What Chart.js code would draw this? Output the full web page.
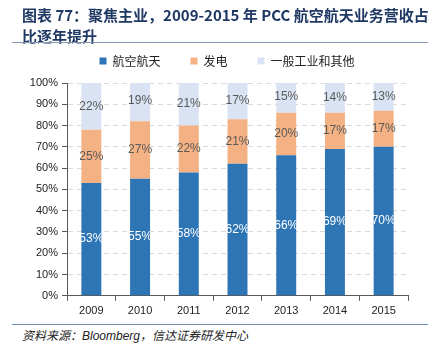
<!DOCTYPE html>
<html><head><meta charset="utf-8">
<script src="https://cdn.jsdelivr.net/npm/chart.js@4.4.0/dist/chart.umd.min.js"></script>
<style>
html,body{margin:0;padding:0;background:#fff;width:428px;height:356px;overflow:hidden;position:relative;}
#title{position:absolute;z-index:2;left:22px;top:4px;width:406px;font-family:"Noto Sans CJK SC","Liberation Sans",sans-serif;font-weight:bold;font-size:15px;line-height:21px;color:#1F3864;white-space:nowrap;}
#rule1{position:absolute;z-index:2;left:12px;width:416px;top:42px;height:0;border-top:1px solid #8497B0;}
#rule2{position:absolute;left:12px;width:416px;top:324px;height:0;border-top:1.5px solid #6F8DB5;}
#foot{position:absolute;left:22px;top:326px;font-family:"Liberation Sans","Noto Sans CJK SC",sans-serif;font-style:italic;font-size:12px;color:#222;white-space:nowrap;}
#wrap{position:absolute;z-index:1;left:0;top:25px;width:428px;height:297px;}
</style></head>
<body>
<div id="title">图表 77：聚焦主业，2009-2015 年 PCC 航空航天业务营收占<br>比逐年提升</div>
<div id="rule1"></div>
<div id="wrap"><canvas id="c" width="428" height="297"></canvas></div>
<div id="rule2"></div>
<div id="foot">资料来源：Bloomberg，信达证券研发中心</div>
<script>
const categories = ['2009','2010','2011','2012','2013','2014','2015'];
const seriesNames = ['航空航天','发电','一般工业和其他'];
const aerospace = [53,55,58,62,66,69,70];
const power = [25,27,22,21,20,17,17];
const industrial = [22,19,21,17,15,14,13];
const yTicks = [0,10,20,30,40,50,60,70,80,90,100];

const labelPlugin = {
  id:'segLabels',
  afterDatasetsDraw(chart){
    const ctx = chart.ctx;
    ctx.save();
    ctx.font = '12px "Liberation Sans", Arial, sans-serif';
    ctx.textAlign='center';ctx.textBaseline='middle';
    chart.data.datasets.forEach((ds,i)=>{
      const meta = chart.getDatasetMeta(i);
      meta.data.forEach((bar,j)=>{
        const y = (bar.y + bar.base)/2;
        ctx.fillStyle = i===0 ? '#ffffff' : '#595959';
        ctx.fillText(ds.data[j]+'%', bar.x, y);
      });
    });
    ctx.restore();
  }
};
const legendTweak = {
  id:'legendTweak',
  beforeInit(chart){
    const lg = chart.legend;
    const orig = lg.fit;
    lg.fit = function(){ orig.call(this); this.height = 58; };
  },
  afterLayout(chart){
    chart.legend.left += 23;
    chart.legend.right += 23;
  }
};

new Chart(document.getElementById('c'),{
  type:'bar',
  data:{labels:categories,datasets:[
    {label:seriesNames[0],data:aerospace,backgroundColor:'#2E75B6'},
    {label:seriesNames[1],data:power,backgroundColor:'#F4B183'},
    {label:seriesNames[2],data:industrial,backgroundColor:'#DAE3F3'}
  ]},
  options:{
    responsive:false,animation:false,
    layout:{padding:{left:0,right:20,top:0,bottom:0}},
    datasets:{bar:{categoryPercentage:1,barPercentage:0.41,borderWidth:0}},
    plugins:{
      legend:{position:'top',align:'center',
        labels:{boxWidth:7,boxHeight:7,padding:30,color:'#222',font:{family:'"Noto Sans CJK SC", sans-serif',size:12}}},
      tooltip:{enabled:false}
    },
    scales:{
      x:{stacked:true,offset:true,
        grid:{display:true,drawOnChartArea:false,drawTicks:true,tickLength:5,offset:true,color:'#595959'},
        border:{display:true,color:'#595959',width:1},
        ticks:{color:'#222',font:{family:'"Liberation Sans", Arial, sans-serif',size:11},padding:4}},
      y:{stacked:true,min:0,max:100,
        afterBuildTicks:s=>{s.ticks=yTicks.map(v=>({value:v}));},
        afterFit:s=>{s.width=67;},
        grid:{color:'#D9D9D9',drawTicks:true,tickLength:5,tickColor:'#595959'},
        border:{display:true,color:'#595959',width:1,dash:[5,4]},
        ticks:{color:'#222',padding:4,font:{family:'"Liberation Sans", Arial, sans-serif',size:11},callback:v=>v+'%'}}
    }
  },
  plugins:[labelPlugin,legendTweak]
});
</script>
</body></html>
